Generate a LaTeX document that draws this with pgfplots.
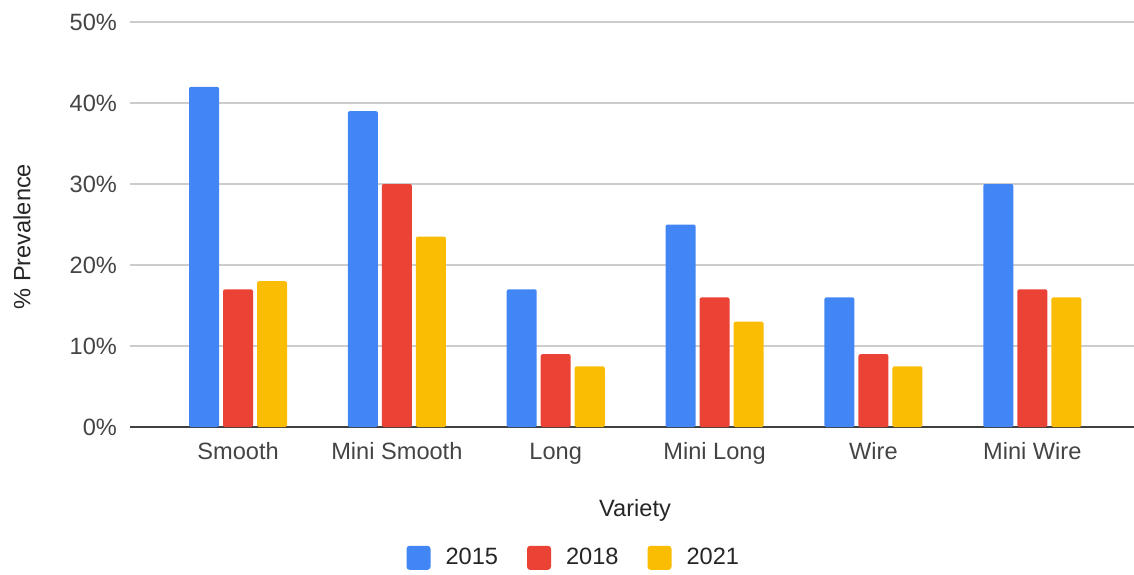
\documentclass[border=0pt]{standalone}
\usepackage{pgfplots}
\pgfplotsset{compat=1.18}
\usepackage{fontspec}
\setmainfont{Liberation Sans}
\definecolor{cblue}{HTML}{4285F4}
\definecolor{cred}{HTML}{EA4335}
\definecolor{cyellow}{HTML}{FBBC04}
\definecolor{tick}{HTML}{444444}
\definecolor{gridc}{HTML}{CCCCCC}

\begin{document}
\begin{tikzpicture}
\path[use as bounding box] (-65pt,-73.5pt) rectangle (502pt,213.5pt);
\begin{axis}[
  at={(0,0)}, anchor=south west,
  scale only axis,
  width=502pt, height=202.5pt,
  ybar=2pt, bar width=15pt,
  xmin=-0.68, xmax=5.64,
  ymin=0, ymax=50,
  xtick=data,
  xticklabels={Smooth, Mini Smooth, Long, Mini Long, Wire, Mini Wire},
  ytick={0,10,20,30,40,50},
  yticklabel={\pgfmathprintnumber[assume math mode=true]{\tick}\%},
  axis x line*=bottom, axis y line*=left,
  x axis line style={draw=black!75, line width=0.8pt},
  y axis line style={draw=none},
  ymajorgrids, grid style={gridc, line width=0.6pt},
  major tick length=0pt,
  tick label style={font=\fontsize{11.8}{13}\selectfont, text=tick},
  yticklabel style={xshift=-3pt},
  xticklabel style={yshift=-3.5pt, text height=9pt, text depth=2.5pt},
  xlabel={Variety}, ylabel={\% Prevalence},
  label style={font=\fontsize{11.8}{13}\selectfont, text=black!85},
  xlabel style={at={(axis description cs:0.503,-0.205)}, anchor=center},
  ylabel style={at={(axis description cs:-0.1076,0.47)}, anchor=center},
  legend style={draw=none, at={(axis description cs:0.443,-0.323)}, anchor=center,
    legend columns=3, font=\fontsize{11.8}{13}\selectfont, text=black!85,
    /tikz/every odd column/.append style={column sep=5.5pt},
    /tikz/every even column/.append style={column sep=12.5pt}},
  legend image code/.code={\fill[#1, rounded corners=1.5pt] (0pt,-6pt) rectangle (12pt,6pt);},
  every axis plot/.append style={rounded corners=1pt},
]
\addplot[draw=none, fill=cblue] coordinates {(0,42) (1,39) (2,17) (3,25) (4,16) (5,30)};
\addplot[draw=none, fill=cred] coordinates {(0,17) (1,30) (2,9) (3,16) (4,9) (5,17)};
\addplot[draw=none, fill=cyellow] coordinates {(0,18) (1,23.5) (2,7.5) (3,13) (4,7.5) (5,16)};
\legend{2015, 2018, 2021}
\end{axis}
\end{tikzpicture}
\end{document}
